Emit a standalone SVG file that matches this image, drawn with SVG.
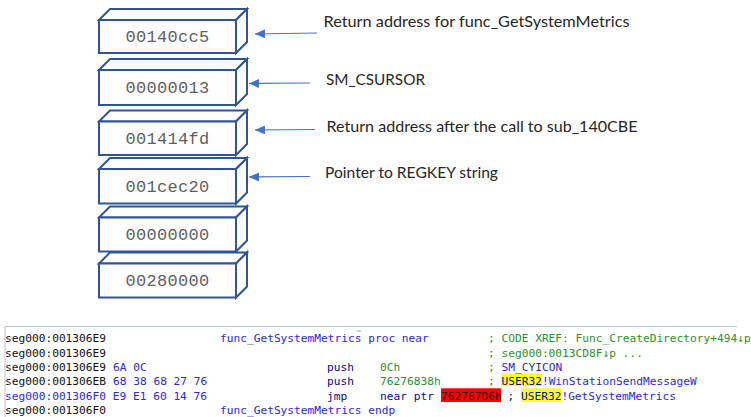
<svg xmlns="http://www.w3.org/2000/svg" width="751" height="417" viewBox="0 0 751 417">
  <defs>
    <marker id="arrowhead" viewBox="0 0 10 10" refX="10" refY="5" markerWidth="10" markerHeight="9" markerUnits="userSpaceOnUse" orient="auto" preserveAspectRatio="none">
      <path d="M0,0 L10,5 L0,10 Z" fill="#4472C4"/>
    </marker>
    <style>
      .face { fill: #ffffff; stroke: #2F5597; stroke-width: 2; stroke-linejoin: miter; }
      .val { font-family: "Liberation Mono", monospace; font-size: 17px; fill: #606060; text-anchor: middle; letter-spacing: 0.3px; }
      .note { font-family: Lato, "Liberation Sans", sans-serif; font-size: 16px; fill: #262626; }
      .ptr { stroke: #4472C4; stroke-width: 1.2; fill: none; }
      .code { font-family: "DejaVu Sans Mono", monospace; font-size: 11.2px; white-space: pre; }
      .k { fill: #111111; }
      .b { fill: #2a2ad2; }
      .n { fill: #0b0b80; }
      .g { fill: #2f8f2f; }
    </style>
  </defs>
  <rect width="751" height="417" fill="#ffffff"/>

  <!-- stack slots, top of stack first -->
  <g id="slot-00140cc5">
    <path class="face" d="M99,20 L110,9 L247,9 L236,20 Z"/>
    <path class="face" d="M236,20 L247,9 L247,42 L236,53 Z"/>
    <rect class="face" x="99" y="20" width="137" height="33"/>
    <text class="val" x="167.5" y="42">00140cc5</text>
  </g>
  <g id="slot-00000013">
    <path class="face" d="M99,70 L110,59 L247,59 L236,70 Z"/>
    <path class="face" d="M236,70 L247,59 L247,94 L236,105 Z"/>
    <rect class="face" x="99" y="70" width="137" height="35"/>
    <text class="val" x="167.5" y="93">00000013</text>
  </g>
  <g id="slot-001414fd">
    <path class="face" d="M99,121.5 L110,110.5 L247,110.5 L236,121.5 Z"/>
    <path class="face" d="M236,121.5 L247,110.5 L247,144 L236,155 Z"/>
    <rect class="face" x="99" y="121.5" width="137" height="33.5"/>
    <text class="val" x="167.5" y="144">001414fd</text>
  </g>
  <g id="slot-001cec20">
    <path class="face" d="M99,169 L110,158 L247,158 L236,169 Z"/>
    <path class="face" d="M236,169 L247,158 L247,192.5 L236,203.5 Z"/>
    <rect class="face" x="99" y="169" width="137" height="34.5"/>
    <text class="val" x="167.5" y="192">001cec20</text>
  </g>
  <g id="slot-00000000">
    <path class="face" d="M99,217.5 L110,206.5 L247,206.5 L236,217.5 Z"/>
    <path class="face" d="M236,217.5 L247,206.5 L247,240.5 L236,251.5 Z"/>
    <rect class="face" x="99" y="217.5" width="137" height="34"/>
    <text class="val" x="167.5" y="240">00000000</text>
  </g>
  <g id="slot-00280000">
    <path class="face" d="M99,263.5 L110,252.5 L247,252.5 L236,263.5 Z"/>
    <path class="face" d="M236,263.5 L247,252.5 L247,286.5 L236,297.5 Z"/>
    <rect class="face" x="99" y="263.5" width="137" height="34"/>
    <text class="val" x="167.5" y="286">00280000</text>
  </g>

  <!-- pointers from the notes to their slots -->
  <g id="connectors">
    <line class="ptr" x1="317" y1="33" x2="255" y2="34" marker-end="url(#arrowhead)"/>
    <line class="ptr" x1="310" y1="83" x2="249" y2="83.5" marker-end="url(#arrowhead)"/>
    <line class="ptr" x1="315" y1="129.5" x2="255" y2="130" marker-end="url(#arrowhead)"/>
    <line class="ptr" x1="310" y1="176.5" x2="249" y2="177" marker-end="url(#arrowhead)"/>
  </g>

  <g id="note-return-getsystemmetrics">
    <text class="note" x="323.5" y="27" textLength="306" lengthAdjust="spacingAndGlyphs">Return address for func_GetSystemMetrics</text>
  </g>
  <g id="note-sm-csursor">
    <text class="note" x="326" y="85" textLength="99" lengthAdjust="spacingAndGlyphs">SM_CSURSOR</text>
  </g>
  <g id="note-return-sub">
    <text class="note" x="326.5" y="131.5" textLength="311" lengthAdjust="spacingAndGlyphs">Return address after the call to sub_140CBE</text>
  </g>
  <g id="note-regkey">
    <text class="note" x="325" y="178" textLength="173" lengthAdjust="spacingAndGlyphs">Pointer to REGKEY string</text>
  </g>

  <!-- disassembly listing -->
  <g id="listing">
    <path d="M5,417 V326.5 H737" fill="none" stroke="#b8c2d2" stroke-width="1"/>
    <line x1="357" y1="331" x2="361" y2="331" stroke="#9a9a9a" stroke-width="1"/>
    <rect x="441" y="388.3" width="60" height="13.7" fill="#ff0000"/>
    <rect x="501" y="373.3" width="40.7" height="12.7" fill="#ffff2a"/>
    <rect x="521" y="388.3" width="40.3" height="13.7" fill="#ffff2a"/>

    <text class="code" y="342">
      <tspan class="k" x="5">seg000:001306E9</tspan>
      <tspan class="b" x="220">func_GetSystemMetrics proc near</tspan>
      <tspan class="g" x="488">; CODE XREF: Func_CreateDirectory+494↓p</tspan>
    </text>
    <text class="code" y="356.5">
      <tspan class="k" x="5">seg000:001306E9</tspan>
      <tspan class="g" x="488">; seg000:0013CD8F↓p ...</tspan>
    </text>
    <text class="code" y="371">
      <tspan class="k" x="5">seg000:001306E9</tspan>
      <tspan class="b" x="113">6A 0C</tspan>
      <tspan class="n" x="327">push</tspan>
      <tspan class="g" x="380">0Ch</tspan>
      <tspan class="g" x="488">;</tspan>
      <tspan class="b" x="501.5">SM_CYICON</tspan>
    </text>
    <text class="code" y="385">
      <tspan class="k" x="5">seg000:001306EB</tspan>
      <tspan class="b" x="113">68 38 68 27 76</tspan>
      <tspan class="n" x="327">push</tspan>
      <tspan class="g" x="380">76276838h</tspan>
      <tspan class="g" x="488">;</tspan>
      <tspan class="n" x="501.5">USER32</tspan>
      <tspan class="b" x="541.9">!WinStationSendMessageW</tspan>
    </text>
    <text class="code" y="399.5">
      <tspan class="b" x="5">seg000:001306F0 E9 E1 60 14 76</tspan>
      <tspan class="n" x="327">jmp</tspan>
      <tspan class="n" x="380">near ptr</tspan>
      <tspan fill="#2a0000" x="441">762767D6h</tspan>
      <tspan class="n" x="507.5">;</tspan>
      <tspan class="n" x="521">USER32</tspan>
      <tspan class="b" x="561.4">!GetSystemMetrics</tspan>
    </text>
    <text class="code" y="414">
      <tspan class="k" x="5">seg000:001306F0</tspan>
      <tspan class="b" x="220">func_GetSystemMetrics endp</tspan>
    </text>
  </g>
</svg>
